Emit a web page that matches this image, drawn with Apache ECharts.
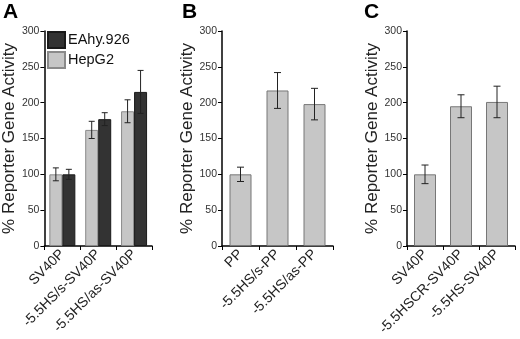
<!DOCTYPE html>
<html>
<head>
<meta charset="utf-8">
<script src="https://cdn.jsdelivr.net/npm/echarts@6/dist/echarts.min.js"></script>
<style>
  html, body { margin: 0; padding: 0; background: #fff; }
  #chart { width: 520px; height: 339px; }
</style>
</head>
<body>
<div id="chart"></div>
<script>
// panel A
const catsA = ['SV40P', '-5.5HS/s-SV40P', '-5.5HS/as-SV40P'];
const hepg2 = [100, 162, 188];
const hepg2Err = [9, 12, 16];
const eahy = [100, 177, 215];
const eahyErr = [7, 9, 30];
// panel B
const catsB = ['PP', '-5.5HS/s-PP', '-5.5HS/as-PP'];
const valsB = [100, 217, 198];
const errB = [10, 25, 22];
// panel C
const catsC = ['SV40P', '-5.5HSCR-SV40P', '-5.5HS-SV40P'];
const valsC = [100, 195, 201];
const errC = [13, 16, 22];
const yTicks = [0, 50, 100, 150, 200, 250, 300];

const font = 'Liberation Sans, Arial, sans-serif';
const light = '#c6c6c6';
const dark = '#333333';

function errorSeries(idx, vals, errs, offset, cap) {
    return {
        type: 'custom',
        xAxisIndex: idx,
        yAxisIndex: idx,
        z: 10,
        data: vals.map((v, i) => [i, v - errs[i], v + errs[i]]),
        renderItem: function (params, api) {
            let lo = api.coord([api.value(0), api.value(1)])
            let hi = api.coord([api.value(0), api.value(2)])
            let x = lo[0] + offset
            let style = { stroke: '#222', lineWidth: 1 }
            return {
                type: 'group',
                children: [
                    { type: 'line', shape: { x1: x, y1: lo[1], x2: x, y2: hi[1] }, style: style },
                    { type: 'line', shape: { x1: x - cap, y1: lo[1], x2: x + cap, y2: lo[1] }, style: style },
                    { type: 'line', shape: { x1: x - cap, y1: hi[1], x2: x + cap, y2: hi[1] }, style: style }
                ]
            }
        }
    }
}

function xAxis(idx, cats) {
    return {
        type: 'category',
        gridIndex: idx,
        data: cats,
        axisLine: { lineStyle: { color: '#000', width: 1.5 } },
        axisTick: { show: true, length: 4, lineStyle: { color: '#000' } },
        axisLabel: {
            interval: 0, rotate: 45, fontSize: 14, color: '#222',
            fontFamily: font, margin: 6
        }
    }
}

function yAxis(idx, gap) {
    return {
        type: 'value',
        gridIndex: idx,
        min: yTicks[0],
        max: yTicks[yTicks.length - 1],
        interval: 50,
        name: '% Reporter Gene Activity',
        nameLocation: 'middle',
        nameGap: gap,
        nameTextStyle: { fontSize: 17, color: '#222', fontFamily: font },
        splitLine: { show: false },
        axisLine: { show: true, lineStyle: { color: '#000', width: 1.5 } },
        axisTick: { show: true, length: 4, lineStyle: { color: '#000' } },
        axisLabel: { fontSize: 10.5, color: '#333', fontFamily: font, margin: 5 }
    }
}

const letterStyle = { fontSize: 21, fontWeight: 'bold', color: '#000', fontFamily: font }

let myChart = echarts.init(document.getElementById('chart'), null, { renderer: 'canvas' })
let option = {
    animation: false,
    backgroundColor: '#fff',
    textStyle: { fontFamily: font },
    title: [
        { text: 'A', left: 3, top: 2, padding: 0, textStyle: letterStyle },
        { text: 'B', left: 182, top: 2, padding: 0, textStyle: letterStyle },
        { text: 'C', left: 364, top: 2, padding: 0, textStyle: letterStyle }
    ],
    legend: {
        orient: 'vertical',
        left: 47,
        top: 31,
        padding: 0,
        itemWidth: 17,
        itemHeight: 16,
        itemGap: 2,
        icon: 'rect',
        data: ['EAhy.926', 'HepG2'],
        textStyle: { fontSize: 14.5, color: '#111', fontFamily: font, padding: [0, 0, 0, -2] }
    },
    grid: [
        { left: 44, top: 31, width: 108, height: 215 },
        { left: 222, top: 31, width: 111, height: 215 },
        { left: 407, top: 31, width: 108, height: 215 }
    ],
    xAxis: [xAxis(0, catsA), xAxis(1, catsB), xAxis(2, catsC)],
    yAxis: [yAxis(0, 23.5), yAxis(1, 26), yAxis(2, 26.5)],
    series: [
        {
            name: 'HepG2', type: 'bar', xAxisIndex: 0, yAxisIndex: 0,
            data: hepg2, barWidth: 13, barGap: 0,
            itemStyle: { color: light, borderColor: '#8a8a8a', borderWidth: 1 }
        },
        {
            name: 'EAhy.926', type: 'bar', xAxisIndex: 0, yAxisIndex: 0,
            data: eahy, barWidth: 13, barGap: 0,
            itemStyle: { color: dark, borderColor: '#1a1a1a', borderWidth: 1 }
        },
        errorSeries(0, hepg2, hepg2Err, -6.5, 3),
        errorSeries(0, eahy, eahyErr, 6.5, 3),
        {
            type: 'bar', xAxisIndex: 1, yAxisIndex: 1, data: valsB, barWidth: 22,
            itemStyle: { color: light, borderColor: '#777', borderWidth: 1 }
        },
        errorSeries(1, valsB, errB, 0, 3.5),
        {
            type: 'bar', xAxisIndex: 2, yAxisIndex: 2, data: valsC, barWidth: 22,
            itemStyle: { color: light, borderColor: '#777', borderWidth: 1 }
        },
        errorSeries(2, valsC, errC, 0, 3.5)
    ]
}
myChart.setOption(option)
</script>
</body>
</html>
